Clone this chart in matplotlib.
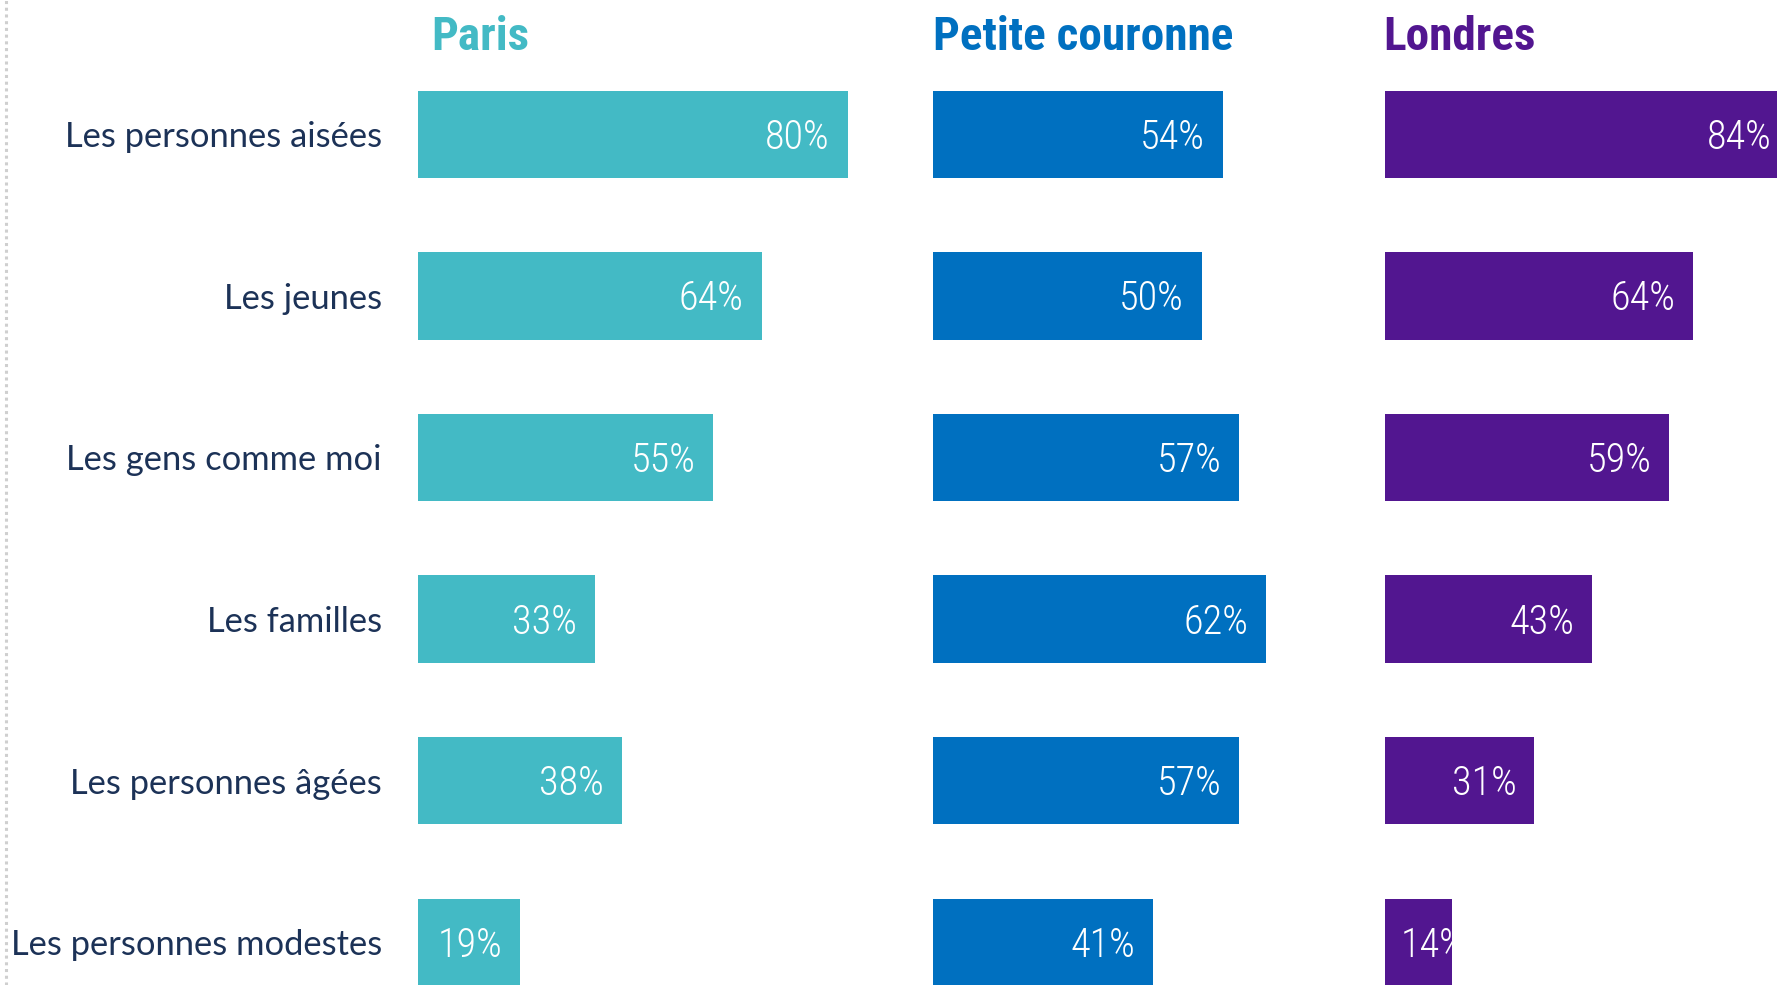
import matplotlib
matplotlib.use("Agg")
import matplotlib.pyplot as plt
from matplotlib.lines import Line2D

# ------------------------------------------------------------
# data
# ------------------------------------------------------------
categories = [
    "Les personnes aisées",
    "Les jeunes",
    "Les gens comme moi",
    "Les familles",
    "Les personnes âgées",
    "Les personnes modestes",
]
panel_titles = ["Paris", "Petite couronne", "Londres"]
paris = [80, 64, 55, 33, 38, 19]
petite_couronne = [54, 50, 57, 62, 57, 41]
londres = [84, 64, 59, 43, 31, 14]

# ------------------------------------------------------------
# style
# ------------------------------------------------------------
COLORS = ["#43BAC5", "#0070C0", "#521690"]
LABEL_COLOR = "#1C3257"
NARROW = ["Roboto Condensed", "Liberation Sans Narrow", "DejaVu Sans"]

W, H = 1777, 985
fig = plt.figure(figsize=(W / 100, H / 100), dpi=100)

# left edge (px) and px per percent for each panel
panel_left = [418, 933, 1385]
px_per_pct = [5.37, 5.37, 4.82]
xmax = [90, 84, 84]

row_step = 161.6
first_center = 134.3
ylim = ((H - first_center) / row_step, -first_center / row_step)

series = [paris, petite_couronne, londres]
gap_px = 18
text_w_px = 54
digit_half = 14.5 / row_step  # half digit height, in row units

for k, values in enumerate(series):
    width_px = px_per_pct[k] * xmax[k]
    ax = fig.add_axes([panel_left[k] / W, 0, width_px / W, 1])
    ax.set_xlim(0, xmax[k])
    ax.set_ylim(*ylim)
    ax.patch.set_alpha(0)
    for s in ax.spines.values():
        s.set_visible(False)
    ax.tick_params(length=0)
    ax.set_xticks([])

    y = list(range(len(categories)))
    bars = ax.barh(y, values, height=0.54, color=COLORS[k])

    gap = gap_px / px_per_pct[k]
    for bar, v, yy in zip(bars, values, y):
        if v * px_per_pct[k] < text_w_px + 2 * gap_px:
            x, ha = 16 / px_per_pct[k], "left"
        else:
            x, ha = v - gap, "right"
        t = ax.text(x, yy + digit_half, f"{v}%", ha=ha, va="baseline",
                    color="white", fontsize=29, family=NARROW,
                    fontstretch="condensed", fontweight="light")
        t.set_clip_path(bar)

    if k == 0:
        ax.set_yticks(y)
        ax.set_yticklabels(categories, fontsize=24.8, family=["Lato", "DejaVu Sans"],
                           color=LABEL_COLOR)
        ax.tick_params(axis="y", pad=26)
    else:
        ax.set_yticks([])

# panel titles
title_x = [431, 933, 1383]
for k, title in enumerate(panel_titles):
    fig.text(title_x[k] / W, 1 - 49.5 / H, title, ha="left", va="baseline",
             fontsize=34, fontweight="heavy", family=NARROW,
             fontstretch="condensed", color=COLORS[k])

# dotted guide on the left edge
fig.add_artist(Line2D([6 / W, 6 / W], [0, 1], transform=fig.transFigure,
                      color="#CFCFCF", lw=2.2, linestyle=(0, (1, 1.2))))

fig.savefig("out.png", dpi=100)
